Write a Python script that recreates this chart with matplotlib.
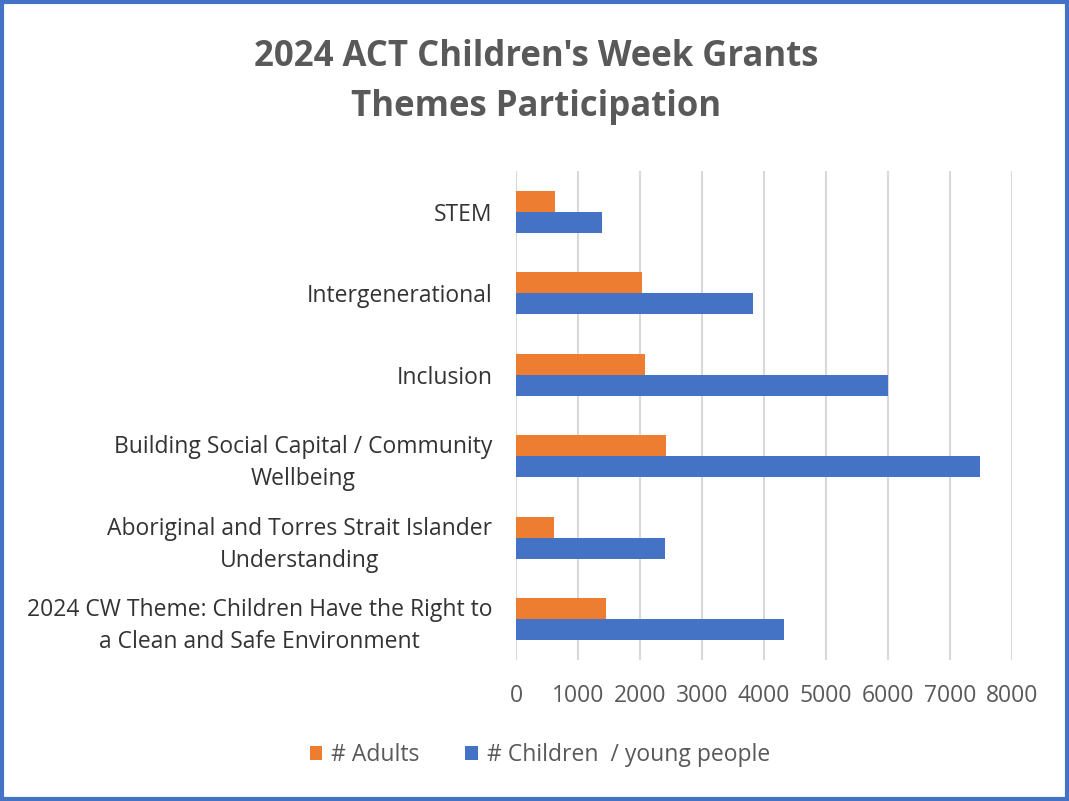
import matplotlib
matplotlib.use("Agg")
import matplotlib.pyplot as plt
from matplotlib.patches import Rectangle
import numpy as np

categories = [
    "2024 CW Theme: Children Have the Right to\na Clean and Safe Environment",
    "Aboriginal and Torres Strait Islander\nUnderstanding",
    "Building Social Capital / Community\nWellbeing",
    "Inclusion",
    "Intergenerational",
    "STEM",
]
adults = [1445, 605, 2420, 2080, 2030, 630]
children = [4320, 2400, 7490, 6000, 3815, 1380]
xticks = [0, 1000, 2000, 3000, 4000, 5000, 6000, 7000, 8000]
series_names = ["# Adults", "# Children  / young people"]

TXT = "#595959"
ORANGE = "#ED7D31"
BLUE = "#4472C4"

plt.rcParams['font.family'] = ['Open Sans', 'DejaVu Sans']

fig = plt.figure(figsize=(10.69, 8.01), dpi=100)
ax = fig.add_axes([516/1069, 1 - 660/801, (1012-516)/1069, (660-171)/801])

y = np.arange(len(categories))
h = 0.26
ax.barh(y + h/2, adults, height=h, color=ORANGE, label=series_names[0], zorder=3)
ax.barh(y - h/2, children, height=h, color=BLUE, label=series_names[1], zorder=3)

ax.set_xlim(0, 8000)
ax.set_ylim(-0.5, len(categories) - 0.5)
ax.set_xticks(xticks)
ax.set_xticklabels([str(t) for t in xticks])
ax.set_yticks(y)
ax.set_yticklabels(categories, multialignment='center', linespacing=1.45)
ax.tick_params(axis='x', length=0, pad=17, labelsize=16.5, labelcolor=TXT)
ax.tick_params(axis='y', length=0, pad=17, labelsize=16.5, labelcolor='#333333')
ax.grid(axis='x', color='#D9D9D9', linewidth=1.5, zorder=0)
for s in ax.spines.values():
    s.set_visible(False)

fig.text(536/1069, 1 - 57/801, "2024 ACT Children's Week Grants", ha='center', va='center',
         fontsize=25, fontweight='bold', color=TXT)
fig.text(536/1069, 1 - 107/801, "Themes Participation", ha='center', va='center',
         fontsize=25, fontweight='bold', color=TXT)

leg = fig.legend(loc='center', bbox_to_anchor=(540/1069, 1 - 755/801), ncol=2, frameon=False,
                 fontsize=16.5, handlelength=0.55, handleheight=0.55, handletextpad=0.4,
                 columnspacing=2.0, labelcolor=TXT)

fig.patches.append(Rectangle((0.0015, 0.002), 0.997, 0.996, transform=fig.transFigure,
                             fill=False, edgecolor=BLUE, linewidth=3))

fig.savefig("out.png", dpi=100)
